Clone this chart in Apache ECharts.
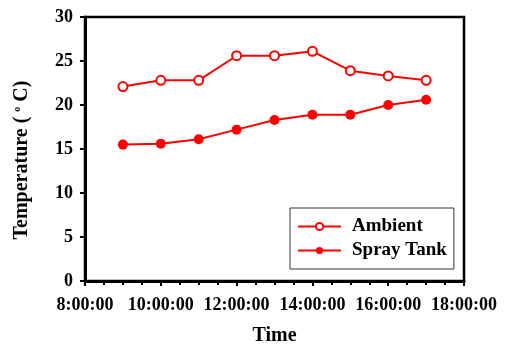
<!DOCTYPE html>
<html>
<head>
<meta charset="utf-8">
<script src="https://cdn.jsdelivr.net/npm/echarts@6/dist/echarts.min.js"></script>
<style>
  html, body { margin: 0; padding: 0; background: #fff; }
  #chart { width: 505px; height: 346px; }
</style>
</head>
<body>
<div id="chart"></div>
<script>
// hours of the day (9:00 .. 17:00)
const hours = [9, 10, 11, 12, 13, 14, 15, 16, 17];
const ambient = [22.1, 22.8, 22.8, 25.6, 25.6, 26.1, 23.9, 23.3, 22.8];
const sprayTank = [15.5, 15.6, 16.1, 17.2, 18.3, 18.9, 18.9, 20.0, 20.6];
const seriesNames = ['Ambient', 'Spray Tank'];

const font = '"Liberation Serif", "Times New Roman", serif';
const red = '#ff0000';

const pairs = (ys) => hours.map((h, i) => [h, ys[i]]);

const chart = echarts.init(document.getElementById('chart'));
chart.setOption({
    animation: false,
    backgroundColor: '#fff',
    grid: {
        left: 85, right: 41, top: 17, bottom: 65,
        outerBoundsMode: 'none',
        show: true,
        borderColor: '#000',
        borderWidth: 2.5
    },
    legend: {
        left: 290,
        top: 208,
        orient: 'vertical',
        backgroundColor: '#fff',
        borderColor: '#333',
        borderWidth: 1,
        padding: [9, 7, 9, 7],
        itemWidth: 43,
        itemHeight: 9,
        itemGap: 5,
        textStyle: { fontFamily: font, fontWeight: 'bold', fontSize: 19, color: '#000', padding: [0, 0, 0, 6] },
        data: seriesNames
    },
    xAxis: {
        type: 'value',
        min: 8,
        max: 18,
        interval: 2,
        name: 'Time',
        nameLocation: 'middle',
        nameGap: 45,
        nameTextStyle: { fontFamily: font, fontWeight: 'bold', fontSize: 20, color: '#000' },
        axisLine: { lineStyle: { color: '#000', width: 3 } },
        axisTick: { length: 5, lineStyle: { color: '#000', width: 2 } },
        minorTick: { show: true, splitNumber: 4, length: 4, lineStyle: { color: '#000', width: 2 } },
        splitLine: { show: false },
        axisLabel: {
            margin: 15,
            fontFamily: font, fontWeight: 'bold', fontSize: 18, color: '#000',
            formatter: (v) => v + ':00:00'
        }
    },
    yAxis: {
        type: 'value',
        min: 0,
        max: 30,
        interval: 5,
        name: 'Temperature ( {sup|o} C)',
        nameLocation: 'middle',
        nameRotate: 90,
        nameGap: 53,
        nameTextStyle: {
            fontFamily: font, fontWeight: 'bold', fontSize: 20, color: '#000',
            padding: [0, 22, 0, 0],
            rich: {
                sup: { fontFamily: font, fontWeight: 'bold', fontSize: 10, color: '#000', verticalAlign: 'top', padding: [0, 0, 9, 0] }
            }
        },
        axisLine: { show: true, lineStyle: { color: '#000', width: 3 } },
        axisTick: { show: true, length: 5, lineStyle: { color: '#000', width: 2 } },
        splitLine: { show: false },
        axisLabel: {
            margin: 12,
            fontFamily: font, fontWeight: 'bold', fontSize: 18, color: '#000'
        }
    },
    series: [
        {
            name: seriesNames[0],
            type: 'line',
            data: pairs(ambient),
            symbol: 'emptyCircle',
            symbolSize: 9,
            lineStyle: { color: red, width: 2 },
            itemStyle: { color: red, borderColor: red, borderWidth: 1 }
        },
        {
            name: seriesNames[1],
            type: 'line',
            data: pairs(sprayTank),
            symbol: 'circle',
            symbolSize: 10,
            lineStyle: { color: red, width: 2 },
            itemStyle: { color: red }
        }
    ]
});
</script>
</body>
</html>
